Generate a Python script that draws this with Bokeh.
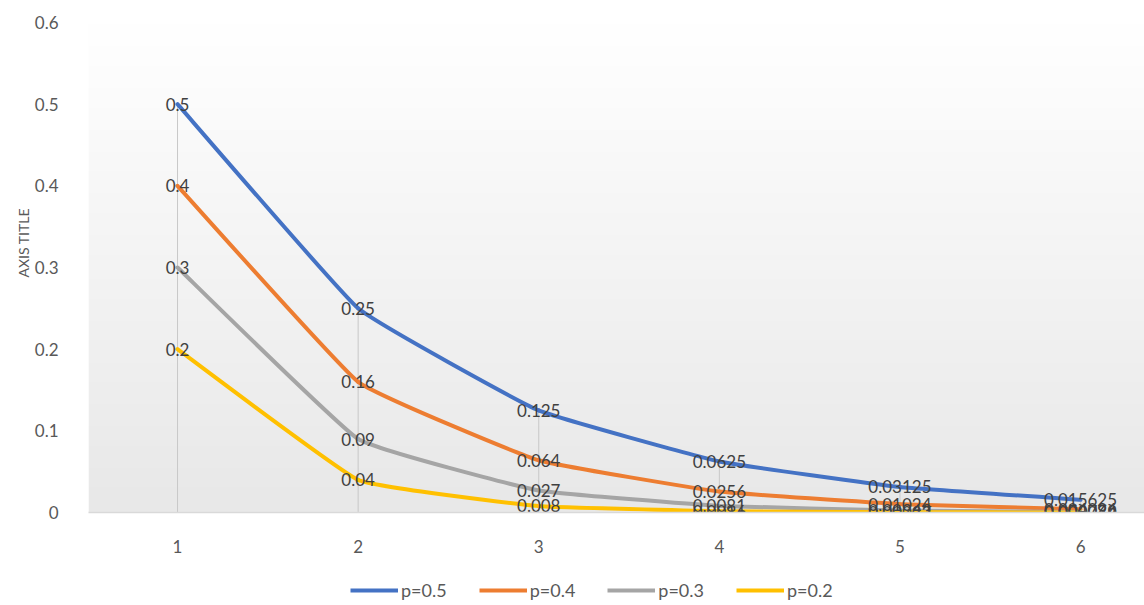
import numpy as np
from bokeh.plotting import figure
from bokeh.layouts import column
from bokeh.models import (ColumnDataSource, FixedTicker, Legend, LegendItem, Range1d, Title)
from bokeh.core.properties import value
from bokeh.embed import file_html
from bokeh.resources import INLINE

# ---- data ----
categories = [1, 2, 3, 4, 5, 6]
series_names = ["p=0.5", "p=0.4", "p=0.3", "p=0.2"]
p05 = [0.5, 0.25, 0.125, 0.0625, 0.03125, 0.015625]
p04 = [0.4, 0.16, 0.064, 0.0256, 0.01024, 0.004096]
p03 = [0.3, 0.09, 0.027, 0.0081, 0.00243, 0.000729]
p02 = [0.2, 0.04, 0.008, 0.0016, 0.00032, 0.000064]
y_ticks = [0, 0.1, 0.2, 0.3, 0.4, 0.5, 0.6]
y_tick_labels = ["0", "0.1", "0.2", "0.3", "0.4", "0.5", "0.6"]
y_title = "AXIS TITLE"
series = [p05, p04, p03, p02]
colors = ["#4472C4", "#ED7D31", "#A5A5A5", "#FFC000"]

FONT = "Lato"
W, H = 1144, 605
H_MAIN = 575
X0, X1 = 0.507, 6.354
SMOOTH = 0.05

p = figure(width=W, height=H_MAIN, output_backend="svg", toolbar_location=None,
           x_range=Range1d(X0, X1), y_range=Range1d(0, 0.6),
           min_border_left=88, min_border_right=0, min_border_top=22,
           min_border_bottom=H_MAIN - 512)
p.background_fill_color = None
p.border_fill_color = "white"
p.outline_line_color = None
p.grid.visible = False

# gradient background in plot area
grad = np.linspace(0.0, 1.0, 200).reshape(200, 1)
grad = np.repeat(grad, 2, axis=1)
palette = ["#%02x%02x%02x" % (v, v, v) for v in np.linspace(232, 255, 256).astype(int)]
p.image(image=[grad], x=X0, y=0, dw=X1 - X0, dh=0.6, palette=palette)

# axes
xa = p.xaxis[0]
xa.ticker = FixedTicker(ticks=categories)
xa.axis_line_color = "#D9D9D9"
xa.axis_line_width = 1.5
xa.major_tick_line_color = None
xa.minor_tick_line_color = None
xa.major_label_text_font = FONT
xa.major_label_text_font_size = "17px"
xa.major_label_text_color = "#595959"
xa.major_label_standoff = 21

ya = p.yaxis[0]
ya.ticker = FixedTicker(ticks=y_ticks)
ya.major_label_overrides = {t: l for t, l in zip(y_ticks, y_tick_labels)}
ya.axis_line_color = None
ya.major_tick_line_color = None
ya.minor_tick_line_color = None
ya.major_label_text_font = FONT
ya.major_label_text_font_size = "17px"
ya.major_label_text_color = "#595959"
ya.major_label_standoff = 24

# y axis title as a side title
p.add_layout(Title(text=y_title, align="left", offset=235, standoff=0,
                   text_font=FONT, text_font_size="14px", text_color="#595959",
                   text_font_style="normal"), "left")

# drop lines
drop_top = [max(vals) for vals in zip(*series)]
p.segment(x0=categories, y0=[0] * len(categories), x1=categories, y1=drop_top,
          line_color="#C8C8C8", line_width=1)

# lightly smoothed lines (bezier through data points)
for name, vals, col in zip(series_names, series, colors):
    x = np.array(categories, dtype=float)
    y = np.array(vals, dtype=float)
    n = len(x)
    xp = np.concatenate([[x[0]], x, [x[-1]]])
    yp = np.concatenate([[y[0]], y, [y[-1]]])
    src = dict(x0=[], y0=[], x1=[], y1=[], cx0=[], cy0=[], cx1=[], cy1=[])
    for i in range(n - 1):
        j = i + 1
        src["x0"].append(x[i]); src["y0"].append(y[i])
        src["x1"].append(x[i + 1]); src["y1"].append(y[i + 1])
        src["cx0"].append(x[i] + (xp[j + 1] - xp[j - 1]) * SMOOTH)
        src["cy0"].append(y[i] + (yp[j + 1] - yp[j - 1]) * SMOOTH)
        src["cx1"].append(x[i + 1] - (xp[j + 2] - xp[j]) * SMOOTH)
        src["cy1"].append(y[i + 1] - (yp[j + 2] - yp[j]) * SMOOTH)
    p.bezier(source=ColumnDataSource(src), x0="x0", y0="y0", x1="x1", y1="y1",
             cx0="cx0", cy0="cy0", cx1="cx1", cy1="cy1",
             line_color=col, line_width=4, line_cap="round")


def fmt(v):
    return ("%.6f" % v).rstrip("0").rstrip(".")


for vals in series:
    p.text(x=categories, y=vals, text=[fmt(v) for v in vals],
           text_font=value(FONT), text_font_size="17px", text_color="#404040",
           text_align="center", text_baseline="middle")

# ---- legend strip ----
pl = figure(width=W, height=H - H_MAIN, output_backend="svg", toolbar_location=None,
            x_range=Range1d(0, 1), y_range=Range1d(0, 1),
            min_border=0, min_border_left=0, min_border_right=0,
            min_border_top=0, min_border_bottom=0)
pl.axis.visible = False
pl.grid.visible = False
pl.outline_line_color = None
pl.background_fill_color = "white"
pl.border_fill_color = "white"
items = []
for name, col in zip(series_names, colors):
    r = pl.line(x=[-5, -4], y=[-5, -4], line_color=col, line_width=4)
    items.append(LegendItem(label=name, renderers=[r]))
legend = Legend(items=items, orientation="horizontal",
                location=(262, 4), glyph_width=48, glyph_height=18,
                label_standoff=3, spacing=32, padding=0, margin=0,
                label_text_font=FONT, label_text_font_size="18px",
                label_text_color="#595959", border_line_color=None,
                background_fill_alpha=0)
pl.add_layout(legend, "center")

layout = column(p, pl, spacing=0)
open("out.html", "w").write(file_html(layout, INLINE))
